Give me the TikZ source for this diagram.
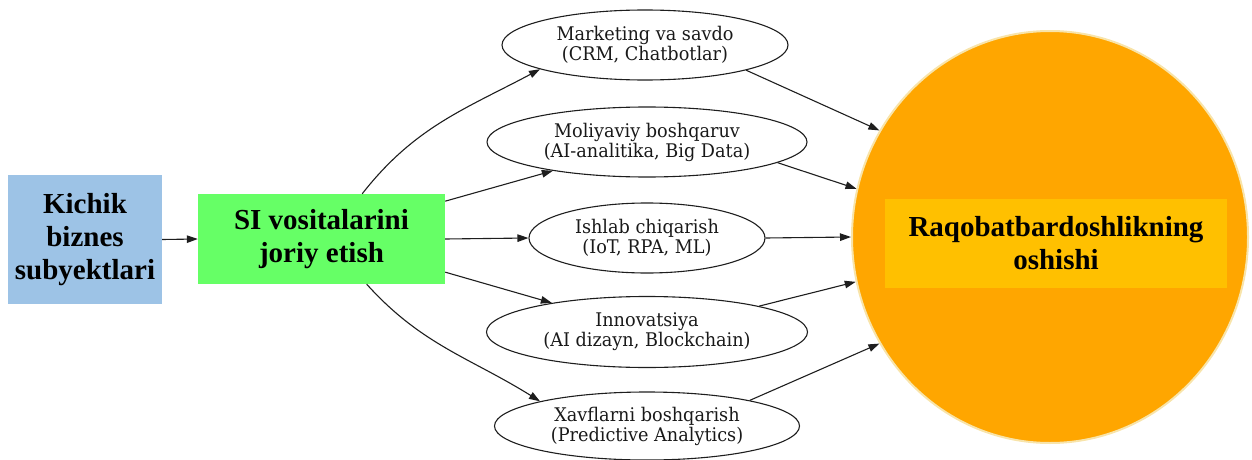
\documentclass[tikz,border=0pt]{standalone}
\usepackage{fontspec}
\setmainfont{Liberation Serif}
\newfontfamily\ellfont[FakeStretch=0.94]{DejaVu Serif}
\usetikzlibrary{shapes.geometric,arrows.meta}
\definecolor{boxblue}{RGB}{157,195,230}
\definecolor{boxgreen}{RGB}{102,255,102}
\definecolor{circorange}{RGB}{255,166,0}
\definecolor{innergold}{RGB}{255,192,0}
\definecolor{circrim}{RGB}{248,228,170}
\definecolor{edgegray}{RGB}{30,30,30}
\tikzset{
  bigbox/.style={rectangle, inner sep=0pt, align=center,
    font=\fontsize{29}{33}\selectfont\bfseries},
  tool/.style={ellipse, draw=edgegray, line width=1.1pt, inner sep=0pt, align=center,
    text=black!90, font=\ellfont\fontsize{18.8}{20}\selectfont},
  conn/.style={draw=edgegray, line width=1.1pt, -{Triangle[length=11pt,width=7.5pt]}},
}
\begin{document}
\begin{tikzpicture}[x=1pt,y=-1pt]
\useasboundingbox (0,0) rectangle (1252,460);
% left boxes
\node[bigbox, fill=boxblue, minimum width=154pt, minimum height=129pt] (kb) at (85,239.5)
  {Kichik\\biznes\\subyektlari};
\node[bigbox, fill=boxgreen, minimum width=247pt, minimum height=90pt] (si) at (321.5,239)
  {SI vositalarini\\joriy etish};
% ellipses
\node[tool, minimum width=286pt, minimum height=70pt] (e1) at (645,45)
  {Marketing va savdo\\(CRM, Chatbotlar)};
\node[tool, minimum width=320pt, minimum height=70pt] (e2) at (647,142)
  {Moliyaviy boshqaruv\\(AI-analitika, Big Data)};
\node[tool, minimum width=236pt, minimum height=70pt] (e3) at (647,238)
  {Ishlab chiqarish\\(IoT, RPA, ML)};
\node[tool, minimum width=321pt, minimum height=71pt] (e4) at (647,332)
  {Innovatsiya\\(AI dizayn, Blockchain)};
\node[tool, minimum width=305pt, minimum height=68pt] (e5) at (647,426)
  {Xavflarni boshqarish\\(Predictive Analytics)};
% big circle
\node[ellipse, fill=circorange, draw=circrim, line width=2pt, inner sep=0pt,
  minimum width=396pt, minimum height=412pt] (c) at (1050,237) {};
\node[bigbox, fill=innergold, minimum width=342pt, minimum height=89pt] (res) at (1056,243.5)
  {Raqobatbardoshlikning\\oshishi};
% connectors
\draw[conn] (kb.east) -- (si.west);
\draw[conn] (si.48) to[out=52,in=208] (e1.193);
\draw[conn] (si.17) -- (e2.197);
\draw[conn] (si.east) -- (e3.west);
\draw[conn] (si.-15) -- (e4.163);
\draw[conn] (si.-45) to[out=-48,in=148] (e5.167);
\draw[conn] (e1.-14) -- (c.148);
\draw[conn] (e2.-9) -- (c.166);
\draw[conn] (e3.east) -- (c.west);
\draw[conn] (e4.13) -- (c.193);
\draw[conn] (e5.14) -- (c.212);
\end{tikzpicture}
\end{document}
